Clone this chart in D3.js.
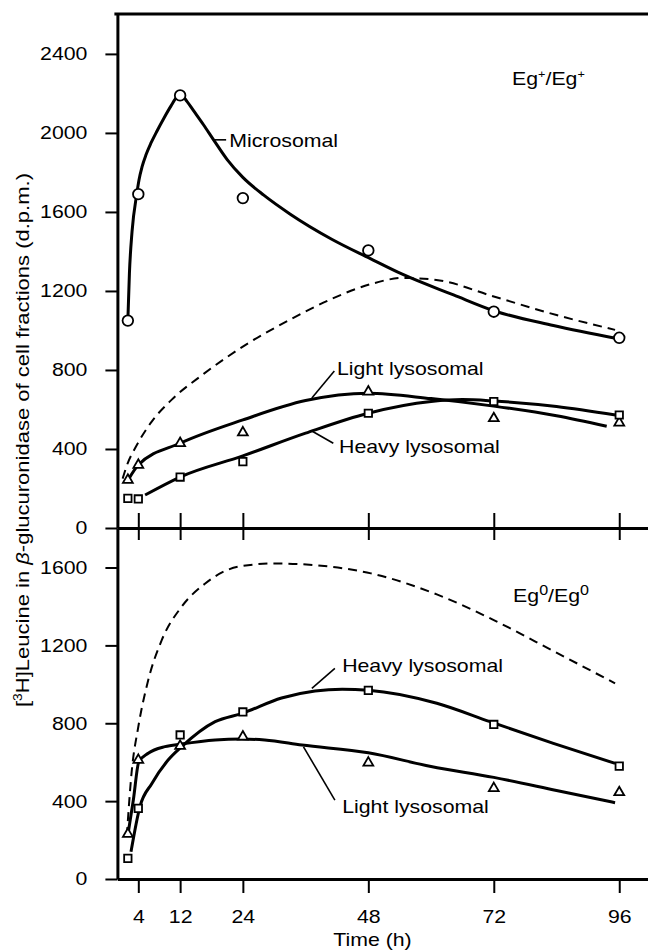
<!DOCTYPE html>
<html>
<head>
<meta charset="utf-8">
<script src="https://cdn.jsdelivr.net/npm/d3@7"></script>
<style>
  body { margin: 0; background: #fff; }
  svg text { font-family: "Liberation Sans", Arial, Helvetica, sans-serif; fill: #000; }
</style>
</head>
<body>
<div id="canvas"></div>
<script>
"use strict";

/* chart size */
const svgWidth = 648;
const svgHeight = 950;

/* sampling times (h) and axis ticks */
const hours = [2, 4, 12, 24, 48, 72, 96];
const xTicks = [4, 12, 24, 48, 72, 96];
const topTicks = [0, 400, 800, 1200, 1600, 2000, 2400];
const bottomTicks = [0, 400, 800, 1200, 1600];

/* Eg+/Eg+ measured points (d.p.m.) */
const plusMicrosomal = [1050, 1690, 2190, 1670, 1405, 1095, 963];
const plusLight = [243, 319, 429, 483, 690, 555, 533];
const plusHeavy = [150, 147, 258, 336, 581, 640, 572];

/* Eg0/Eg0 measured points (d.p.m.) */
const zeroLight = [231, 611, 683, 731, 597, 466, 445];
const zeroHeavy = [106, 363, 740, 858, 969, 794, 580];

/* hand drawn curves, [hours, d.p.m.] */
const plusMicrosomalFit = [[2, 1050], [2.3, 1290], [2.8, 1500], [3.7, 1690], [4.13, 1762], [4.71, 1828], [5.47, 1889],
  [6.43, 1949], [7.58, 2010], [8.92, 2076], [10.26, 2137], [11.4, 2182], [12.2, 2192], [13.3, 2160], [14.5, 2115],
  [16.5, 2040], [18.4, 1965], [21, 1865], [24, 1775], [28, 1685], [33, 1590], [41, 1462], [48.3, 1365], [54.5, 1285],
  [64.3, 1180], [72, 1100], [83.4, 1025], [95.8, 958]];
const plusTotalFit = [[1, 250], [2, 330], [3.4, 405], [6.6, 540], [10.4, 650], [16.5, 780], [25, 935], [33.4, 1060],
  [41, 1160], [48.5, 1235], [54.7, 1266], [61, 1256], [72, 1172], [84, 1078], [95.2, 1003]];
const plusLightFit = [[2.2, 250], [4, 319], [12, 429], [24, 547], [36, 645], [48, 682], [60, 655], [72, 617], [84, 568], [93.6, 515]];
const plusHeavyFit = [[5.3, 167], [12, 258], [24, 365], [36, 480], [48, 581], [60, 640], [66, 650], [72, 643], [84, 615], [95.3, 572]];

const zeroTotalFit = [[1.8, 220], [2.7, 543], [4, 782], [5.9, 1022], [8.5, 1228], [12.3, 1399], [16.8, 1518], [23.1, 1604],
  [30.2, 1621], [37.8, 1612], [48.5, 1570], [61.1, 1462], [72, 1330], [83.4, 1171], [95.2, 1005]];
const zeroHeavyFit = [[2.6, 140], [4.3, 371], [6.6, 491], [9.7, 611], [12.3, 680], [18.7, 808], [23.9, 851], [31.4, 930],
  [37.8, 966], [43, 975], [48, 970], [61.1, 903], [71.3, 808], [83.4, 697], [95.2, 594]];
const zeroLightFit = [[2.1, 243], [3.05, 406], [4.1, 602], [5.9, 646], [9.1, 680], [12.2, 693], [18.7, 714], [23.8, 719],
  [28.2, 714], [35.3, 688], [48, 648], [60, 578], [72, 522], [84, 455], [95.2, 392]];

/* svg */
const svg = d3.select("#canvas")
  .append("svg")
  .attr("width", svgWidth)
  .attr("height", svgHeight);

// scales (the two panels share the time axis)
const x = d3.scaleLinear().domain([0, 101.5]).range([117.4, 648]);
const yTop = d3.scaleLinear().domain([0, 2602]).range([528, 14]);
const yBot = d3.scaleLinear().domain([0, 1803]).range([879, 528]);

const FONT = 18.5;
const WIDE = 1.15; // the printed type is wider than Arial

function widen(sel, k) {
  sel.each(function () {
    const w = this.getComputedTextLength();
    d3.select(this).attr("textLength", w * (k || WIDE)).attr("lengthAdjust", "spacingAndGlyphs");
  });
}

function styleAxis(g) {
  g.select(".domain").attr("stroke-width", 3);
  g.selectAll(".tick line").attr("stroke-width", 2);
  g.selectAll(".tick text").attr("font-size", FONT).attr("font-family", null).attr("fill", "#000");
}

/* y axes */
const yAxisTop = svg.append("g")
  .attr("transform", `translate(${x(0)},0)`)
  .call(d3.axisLeft(yTop).tickValues(topTicks).tickFormat(d3.format("d"))
    .tickSize(12).tickSizeOuter(0).tickPadding(18))
  .call(styleAxis);
widen(yAxisTop.selectAll(".tick text"));

const yAxisBot = svg.append("g")
  .attr("transform", `translate(${x(0)},0)`)
  .call(d3.axisLeft(yBot).tickValues(bottomTicks).tickFormat(d3.format("d"))
    .tickSize(12).tickSizeOuter(0).tickPadding(18))
  .call(styleAxis);
widen(yAxisBot.selectAll(".tick text"));

/* x axes: divider between panels carries crossing ticks */
svg.append("g")
  .attr("transform", `translate(0,${yTop(0)})`)
  .call(d3.axisBottom(x).tickValues(xTicks).tickSize(12).tickSizeOuter(0).tickFormat(""))
  .call(styleAxis);
svg.append("g")
  .attr("transform", `translate(0,${yTop(0)})`)
  .call(d3.axisTop(x).tickValues(xTicks).tickSize(15).tickSizeOuter(0).tickFormat(""))
  .call(styleAxis);

const xAxisBot = svg.append("g")
  .attr("transform", `translate(0,${yBot(0)})`)
  .call(d3.axisBottom(x).tickValues(xTicks).tickSize(14).tickSizeOuter(0).tickPadding(17))
  .call(styleAxis);
widen(xAxisBot.selectAll(".tick text"));

// top frame line
svg.append("line")
  .attr("x1", x(0) - 3).attr("x2", svgWidth)
  .attr("y1", yTop.range()[1]).attr("y2", yTop.range()[1])
  .attr("stroke", "#000").attr("stroke-width", 3);

/* axis titles */
const xTitle = svg.append("text")
  .attr("x", 372.5)
  .attr("y", 946)
  .attr("text-anchor", "middle")
  .attr("font-size", FONT)
  .text("Time (h)");
widen(xTitle);

const yTitle = svg.append("text")
  .attr("transform", "translate(29,707) rotate(-90)")
  .attr("font-size", 19)
  .attr("textLength", 534)
  .attr("lengthAdjust", "spacingAndGlyphs");
yTitle.append("tspan").text("[");
yTitle.append("tspan").attr("font-size", 12).attr("dy", -7).text("3");
yTitle.append("tspan").attr("dy", 7).text("H]Leucine in ");
yTitle.append("tspan").attr("font-style", "italic").text("β");
yTitle.append("tspan").text("-glucuronidase of cell fractions (d.p.m.)");

/* curves */
const line = yScale => d3.line()
  .x(d => x(d[0]))
  .y(d => yScale(d[1]))
  .curve(d3.curveMonotoneX);

function drawCurve(pts, yScale, dashed) {
  svg.append("path")
    .datum(pts)
    .attr("d", line(yScale))
    .attr("fill", "none")
    .attr("stroke", "#000")
    .attr("stroke-width", dashed ? 2 : 3)
    .attr("stroke-dasharray", dashed ? "9,6" : null);
}

drawCurve(plusTotalFit, yTop, true);
drawCurve(plusMicrosomalFit, yTop, false);
drawCurve(plusLightFit, yTop, false);
drawCurve(plusHeavyFit, yTop, false);

drawCurve(zeroTotalFit, yBot, true);
drawCurve(zeroHeavyFit, yBot, false);
drawCurve(zeroLightFit, yBot, false);

/* markers */
function drawPoints(values, yScale, kind) {
  const sel = svg.append("g").selectAll("path")
    .data(values)
    .enter()
    .append("path")
    .attr("transform", (d, i) => `translate(${x(hours[i])},${yScale(d)})`)
    .attr("fill", "#fff")
    .attr("stroke", "#000")
    .attr("stroke-width", 1.8);
  if (kind === "circle") sel.attr("d", d3.symbol().type(d3.symbolCircle).size(Math.PI * 5.3 * 5.3));
  if (kind === "square") sel.attr("d", d3.symbol().type(d3.symbolSquare).size(7.4 * 7.4));
  if (kind === "triangle") sel.attr("d", d3.symbol().type(d3.symbolTriangle).size(42));
}

drawPoints(plusMicrosomal, yTop, "circle");
drawPoints(plusLight, yTop, "triangle");
drawPoints(plusHeavy, yTop, "square");
drawPoints(zeroLight, yBot, "triangle");
drawPoints(zeroHeavy, yBot, "square");

/* curve labels with leader lines */
const plusLabels = [
  { text: "Microsomal", h: 21.4, v: 1929, from: [18.35, 1965], to: [20.8, 1965] },
  { text: "Light lysosomal", h: 42, v: 775, from: [37.2, 658], to: [41.5, 795] },
  { text: "Heavy lysosomal", h: 42.4, v: 380, from: [37.2, 491], to: [41.3, 429] }
];
const zeroLabels = [
  { text: "Heavy lysosomal", h: 43, v: 1065, from: [37.2, 979], to: [41.6, 1082] },
  { text: "Light lysosomal", h: 43, v: 339, from: [35.6, 679], to: [41.6, 405] }
];

function drawLabels(list, yScale) {
  list.forEach(d => {
    svg.append("line")
      .attr("x1", x(d.from[0])).attr("y1", yScale(d.from[1]))
      .attr("x2", x(d.to[0])).attr("y2", yScale(d.to[1]))
      .attr("stroke", "#000").attr("stroke-width", 1.6);
    const t = svg.append("text")
      .attr("x", x(d.h))
      .attr("y", yScale(d.v))
      .attr("font-size", FONT)
      .text(d.text);
    widen(t);
  });
}
drawLabels(plusLabels, yTop);
drawLabels(zeroLabels, yBot);

/* genotype labels */
function genotype(h, v, yScale, sup, supSize, rise) {
  const t = svg.append("text")
    .attr("x", x(h))
    .attr("y", yScale(v))
    .attr("font-size", FONT);
  t.append("tspan").text("Eg");
  t.append("tspan").attr("font-size", supSize).attr("dy", -rise).text(sup);
  t.append("tspan").attr("dy", rise).text("/Eg");
  t.append("tspan").attr("font-size", supSize).attr("dy", -rise).text(sup);
  widen(t);
}
genotype(75.5, 2243, yTop, "+", 11, 7);
genotype(75.7, 1424, yBot, "0", 14, 7);
</script>
</body>
</html>
